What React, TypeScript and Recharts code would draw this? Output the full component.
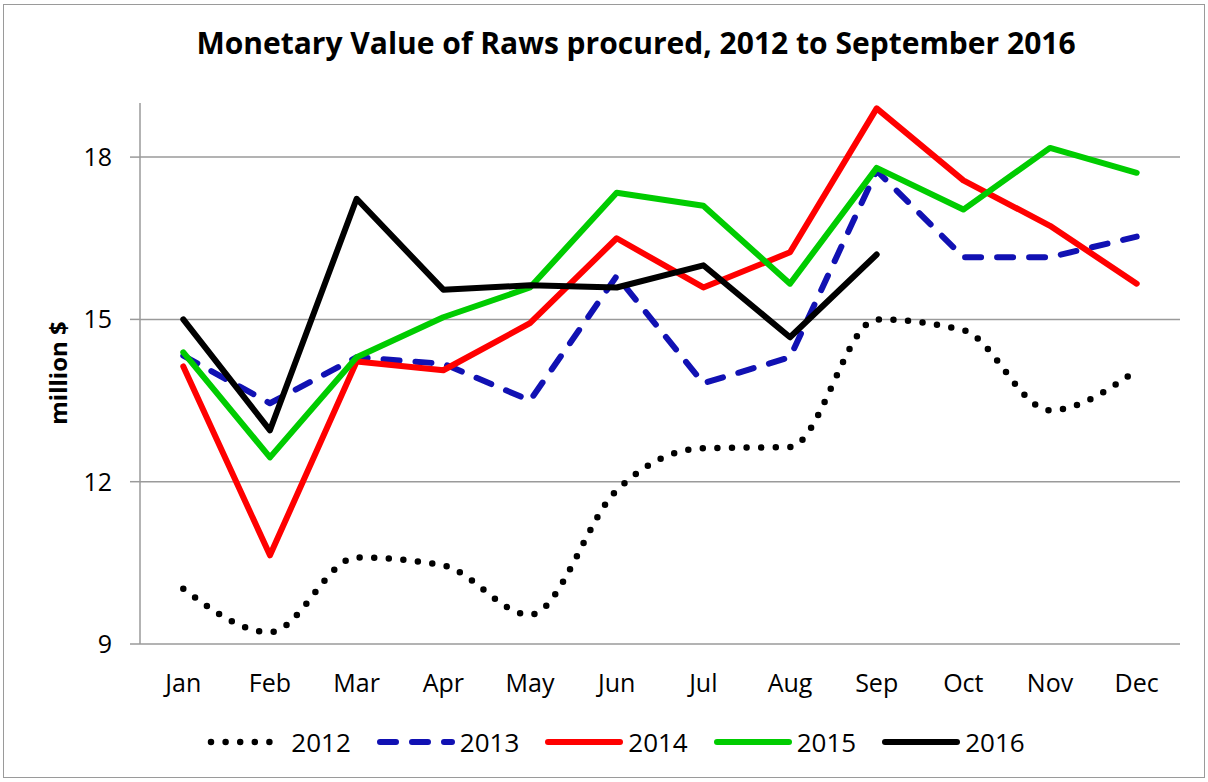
import React from 'react';
import { LineChart, Line, XAxis, YAxis, CartesianGrid } from 'recharts';

const MONTHS = ['Jan', 'Feb', 'Mar', 'Apr', 'May', 'Jun', 'Jul', 'Aug', 'Sep', 'Oct', 'Nov', 'Dec'];
const Y_TICKS = [9, 12, 15, 18];
const GRID_VALUES = [12, 15, 18];
const EDGE_TICKS = [0, 1, 2, 3, 4, 5, 6, 7, 8, 9, 10, 11, 12];

const V2012 = [10.02, 9.22, 10.6, 10.45, 9.54, 11.84, 12.62, 12.64, 15.0, 14.8, 13.32, 14.06];
const V2013 = [14.33, 13.45, 14.3, 14.18, 13.5, 15.8, 13.82, 14.3, 17.75, 16.15, 16.15, 16.53];
const V2014 = [14.13, 10.64, 14.22, 14.06, 14.93, 16.5, 15.59, 16.24, 18.9, 17.57, 16.73, 15.66];
const V2015 = [14.39, 12.45, 14.3, 15.04, 15.59, 17.34, 17.1, 15.66, 17.8, 17.03, 18.17, 17.71];
const V2016 = [15.0, 12.95, 17.23, 15.55, 15.63, 15.59, 16.0, 14.67, 16.2];

const SERIES = [
  { key: 'y2012', name: '2012', values: V2012, color: '#000000', dash: '0 14.6', width: 6.5, curve: 'monotone' },
  { key: 'y2013', name: '2013', values: V2013, color: '#1111b3', dash: '16 16', width: 6, curve: 'linear' },
  { key: 'y2014', name: '2014', values: V2014, color: '#ff0000', dash: undefined, width: 6, curve: 'linear' },
  { key: 'y2015', name: '2015', values: V2015, color: '#00cc00', dash: undefined, width: 6, curve: 'linear' },
  { key: 'y2016', name: '2016', values: V2016, color: '#000000', dash: undefined, width: 6, curve: 'linear' },
];

const data = MONTHS.map((month, i) => {
  const row: Record<string, any> = { month };
  SERIES.forEach(s => {
    row[s.key] = i < s.values.length ? s.values[i] : null;
  });
  return row;
});

const FONT = '"Open Sans", "Liberation Sans", sans-serif';
const GRAY = '#9a9a9a';

// "a" = tick marks at month boundaries, right on the plot edge; "b" = month labels below it
const App: React.FC = () => {
  return (
    <div style={{ position: 'absolute', left: 0, top: 0, width: 1208, height: 782, background: '#fff', fontFamily: FONT }}>
      <div style={{ position: 'absolute', left: 3, top: 4, width: 1200, height: 772, border: `1.5px solid ${GRAY}` }} />
      <div style={{ position: 'absolute', left: 64, top: 22, width: 1144, textAlign: 'center', fontSize: 30, fontWeight: 700, color: '#000' }}>
        Monetary Value of Raws procured, 2012 to September 2016
      </div>
      <div style={{ position: 'absolute', left: 57, top: 373, transform: 'translate(-50%, -50%) rotate(-90deg)', fontSize: 24, fontWeight: 700, whiteSpace: 'nowrap' }}>
        million $
      </div>

      <div style={{ position: 'absolute', left: 0, top: 0 }}>
        <LineChart width={1208} height={782} data={data} margin={{ top: 103, right: 28, bottom: 60, left: 0 }}>
          <CartesianGrid xAxisId="b" vertical={false} horizontalValues={GRID_VALUES} stroke={GRAY} strokeWidth={1.5} />
          <XAxis
            xAxisId="a"
            type="number"
            domain={[0, 12]}
            allowDataOverflow
            ticks={EDGE_TICKS}
            tick={false}
            height={8}
            tickSize={8}
            axisLine={{ stroke: GRAY, strokeWidth: 1.5 }}
            tickLine={{ stroke: GRAY, strokeWidth: 1.5 }}
          />
          <XAxis
            xAxisId="b"
            dataKey="month"
            padding={{ left: 43.3, right: 43.3 }}
            axisLine={false}
            tickLine={false}
            tickSize={20}
            tickMargin={2}
            height={70}
            tick={{ fontSize: 25, fill: '#000', fontFamily: FONT }}
          />
          <YAxis
            domain={[9, 19]}
            ticks={Y_TICKS}
            width={140}
            axisLine={{ stroke: GRAY, strokeWidth: 1.5 }}
            tickLine={{ stroke: GRAY, strokeWidth: 1.5 }}
            tickSize={10}
            tickMargin={18}
            tick={{ fontSize: 25, fill: '#000', fontFamily: FONT }}
          />
          {SERIES.map(s => (
            <Line
              key={s.key}
              xAxisId="b"
              type={s.curve as any}
              dataKey={s.key}
              name={s.name}
              stroke={s.color}
              strokeWidth={s.width}
              strokeDasharray={s.dash}
              strokeLinecap="round"
              strokeLinejoin="round"
              dot={false}
              activeDot={false}
              isAnimationActive={false}
            />
          ))}
        </LineChart>
      </div>

      <div style={{ position: 'absolute', left: 12, top: 724, width: 1208, display: 'flex', justifyContent: 'center', alignItems: 'center', gap: 25 }}>
        {SERIES.map(s => (
          <div key={s.key} style={{ display: 'flex', alignItems: 'center' }}>
            <svg width={80} height={14}>
              <line
                x1={4}
                y1={7}
                x2={76}
                y2={7}
                stroke={s.color}
                strokeWidth={s.width}
                strokeDasharray={s.dash}
                strokeLinecap="round"
              />
            </svg>
            <span style={{ fontSize: 26, color: '#000', marginLeft: 4 }}>{s.name}</span>
          </div>
        ))}
      </div>
    </div>
  );
};

export default App;
